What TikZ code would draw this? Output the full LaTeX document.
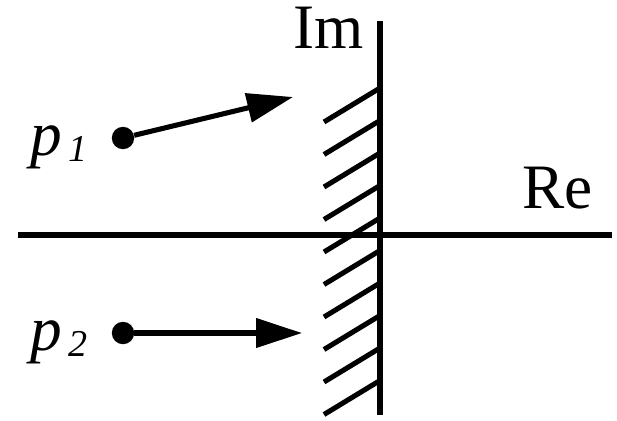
\documentclass[tikz,border=0pt]{standalone}
\usepackage{fontspec}
\setmainfont{Liberation Serif}
\usetikzlibrary{calc,arrows.meta,positioning}

\tikzset{
	axis/.style={line width=4.2pt},
	hatch/.style={line width=3.6pt},
	pole/.style={circle,fill=black,inner sep=0pt,minimum size=0.56cm},
	move/.style={line width=3.6pt,-{Triangle[length=1.15cm,width=0.72cm]}},
	lbl/.style={inner sep=0pt,font=\fontsize{45}{48}\selectfont}
}
\newcommand{\polename}[1]{\textit{p}\kern0.1em\raisebox{-0.11em}{\fontsize{27}{30}\selectfont\textit{#1}}}

\begin{document}
\begin{tikzpicture}
				\path[use as bounding box]
				(-9.5,-4.625) rectangle (5.925,5.875);
				% axes
				\draw[axis] (-9.05,0) -- (5.8,0);
				\draw[axis] (0,-4.5) -- (0,5.35);
				\node[lbl,anchor=base east] (im) at (-0.4,4.675) {Im};
				\node[lbl,anchor=base west] (re) at (3.55,0.675) {Re};
				% stability boundary
				\foreach \k in {0,...,9}
					\draw[hatch] (0,{3.675-0.8125*\k}) -- ++(-1.4,-0.85);
				% poles
				\node[pole] (p1) at (-6.425,2.425) {};
				\node[pole] (p2) at (-6.425,-2.45) {};
				\node[lbl,anchor=base east] (p1lbl) at ($(p1)+(-0.875,-0.425)$) {\polename{1}};
				\node[lbl,anchor=base east] (p2lbl) at ($(p2)+(-0.875,-0.425)$) {\polename{2}};
				\coordinate (t1) at (-2.175,3.45);
				\coordinate (t2) at (-1.95,-2.45);
				\draw[move] (p1) -- (t1);
				\draw[move] (p2) -- (t2);
			\end{tikzpicture}
\end{document}
